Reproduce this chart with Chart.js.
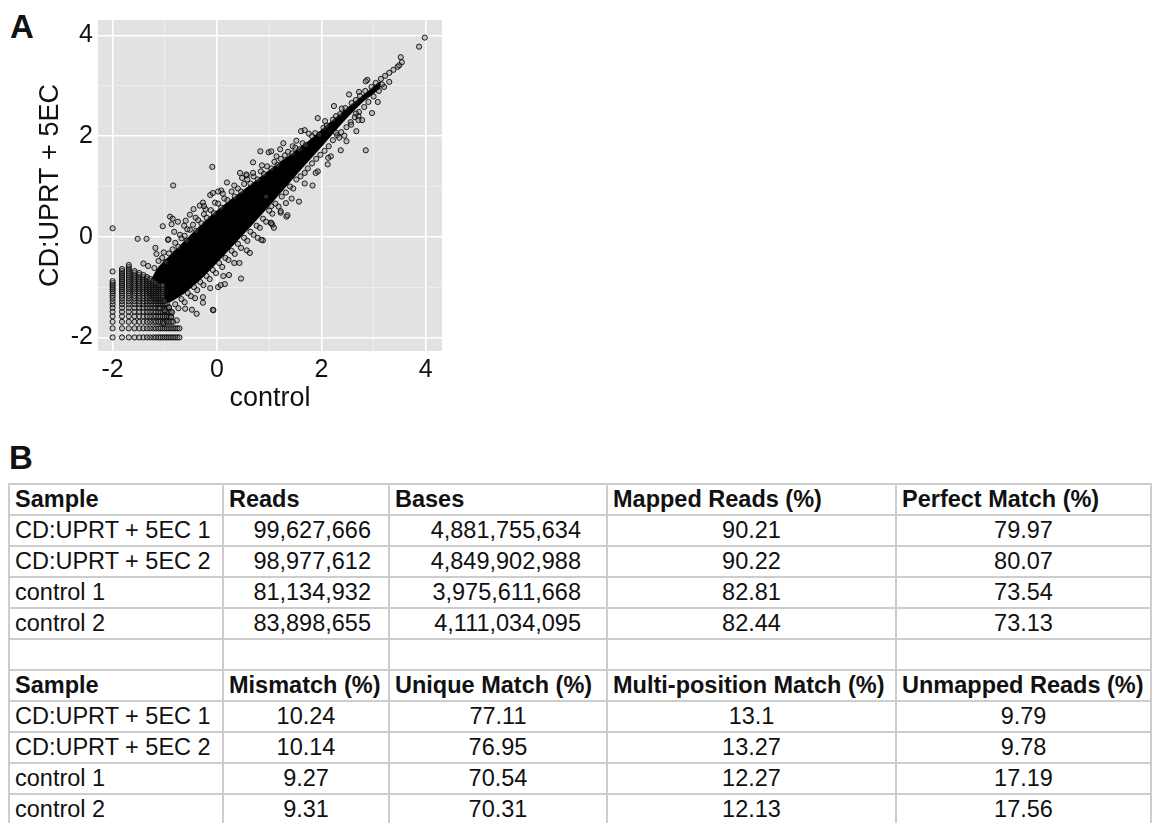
<!DOCTYPE html>
<html>
<head>
<meta charset="utf-8">
<script src="https://cdn.jsdelivr.net/npm/chart.js@4.4.1/dist/chart.umd.min.js"></script>
<style>
  body { margin: 0; background: #fff; font-family: "Liberation Sans", Arial, sans-serif; color: #111; }
  #page { position: relative; width: 1155px; height: 823px; overflow: hidden; }
  .panel-label { position: absolute; font-weight: bold; font-size: 33px; line-height: 1; }
  #chartBox { position: absolute; left: 0; top: 0; width: 450px; height: 420px; }
  #stats { position: absolute; left: 8px; top: 483px; width: 1142px; border-collapse: collapse; table-layout: fixed; font-size: 23.5px; }
  #stats td { border: 2px solid #cdcdcd; height: 29px; padding: 0 5px; line-height: 29px; white-space: nowrap; overflow: visible; }
  #stats td.head { font-weight: bold; }
  #stats td.num { text-align: right; }
  #stats td.mid { text-align: center; }
</style>
</head>
<body>
<div id="page">
  <div class="panel-label" style="left:10px; top:10px;">A</div>
  <div id="chartBox"><canvas id="scatter"></canvas></div>
  <div class="panel-label" style="left:9px; top:441px;">B</div>
  <table id="stats">
    <colgroup>
      <col style="width:214px"><col style="width:166px"><col style="width:218px"><col style="width:289px"><col style="width:255px">
    </colgroup>
    <tbody id="statsBody"></tbody>
  </table>
</div>

<script>
// ---- panel A: log expression, control vs CD:UPRT + 5EC ----
const tickValues = [-2, -1, 0, 1, 2, 3, 4];
const labelledTicks = [-2, 0, 2, 4];

// solid dense core of the cloud (outline)
const coreX = [-1.25, -1.1, -0.78, -0.46, -0.14, 0.24, 0.62, 1.01, 1.39, 1.77, 2.15, 2.54, 2.92, 3.11,
               3.11, 2.79, 2.41, 2.03, 1.64, 1.26, 0.88, 0.5, 0.11, -0.27, -0.65, -0.97, -1.22, -1.32];
const coreY = [-0.86, -0.6, -0.27, 0.06, 0.38, 0.7, 1.0, 1.31, 1.6, 1.9, 2.24, 2.58, 2.9, 3.06,
               2.96, 2.7, 2.3, 1.85, 1.4, 0.95, 0.5, 0.07, -0.37, -0.78, -1.12, -1.31, -1.27, -1.11];

// points just above the core
const upperX = [-1.2, -1.12, -1.05, -0.98, -0.92, -0.85, -0.8, -0.74, -0.68, -0.62, -0.58, -0.52, -0.46, -0.4, -0.36, -0.3,
                -0.25, -0.2, -0.12, -0.06, 0.02, 0.08, 0.14, 0.2, 0.28, 0.34, 0.4, 0.46, 0.52, 0.58, 0.64, 0.7, 0.78, 0.84,
                0.9, 0.96, 1.04, 1.1, 1.16, 1.22, 1.3, 1.36, 1.44, 1.5, 1.58, 1.64, 1.7, 1.82, 1.88, 1.96, 2.04, 2.1, 2.22,
                2.28, 2.36, 2.46, 2.58, 2.66, 2.74, 2.84, 2.96, 3.04, 3.14, 3.22, 3.3, 3.38, 3.46];
const upperY = [-0.62, -0.48, -0.42, -0.5, -0.33, -0.25, -0.12, -0.2, -0.03, 0.02, -0.08, 0.14, 0.24, 0.12, 0.33, 0.27,
                0.45, 0.38, 0.53, 0.47, 0.66, 0.58, 0.76, 0.73, 0.9, 0.8, 0.96, 0.9, 1.05, 1.14, 1.06, 1.2, 1.14, 1.3,
                1.25, 1.4, 1.36, 1.49, 1.43, 1.55, 1.62, 1.69, 1.66, 1.77, 1.74, 1.86, 1.82, 2.0, 2.06, 2.03, 2.17, 2.21, 2.33,
                2.4, 2.44, 2.56, 2.66, 2.72, 2.8, 2.9, 2.98, 3.06, 3.14, 3.2, 3.26, 3.32, 3.38];

// further out above the core
const upperOuterX = [-1.32, -1.18, -1.02, -0.93, -0.82, -0.71, -0.6, -0.52, -0.41, -0.33, -0.22, -0.13, -0.04, 0.08, 0.19, 0.33,
                     0.44, 0.57, 0.69, 0.86, 0.99, 1.14, 1.27, 1.45, 1.61, 1.76, 1.93, 2.07, 2.24, 2.39, 2.53, 2.72, 2.88];
const upperOuterY = [-0.58, -0.22, -0.31, -0.05, 0.1, 0.04, 0.32, 0.44, 0.38, 0.62, 0.55, 0.83, 0.68, 0.92, 1.08, 1.02,
                     1.27, 1.22, 1.48, 1.42, 1.68, 1.6, 1.86, 1.8, 2.1, 2.05, 2.36, 2.3, 2.6, 2.55, 2.83, 2.88, 3.12];

// points just below the core
const lowerX = [-1.1, -1.0, -0.92, -0.86, -0.8, -0.74, -0.68, -0.62, -0.56, -0.5, -0.44, -0.38, -0.32, -0.26, -0.2, -0.14,
                -0.08, -0.02, 0.04, 0.1, 0.16, 0.22, 0.28, 0.34, 0.4, 0.46, 0.52, 0.58, 0.64, 0.7, 0.76, 0.82, 0.88, 0.94,
                1.0, 1.06, 1.12, 1.18, 1.24, 1.32, 1.4, 1.46, 1.52, 1.6, 1.68, 1.74, 1.82, 1.9, 1.98, 2.06, 2.14, 2.22, 2.3,
                2.38, 2.48, 2.56, 2.64, 2.72, 2.82, 2.9, 3.0, 3.1, 3.2, 3.3];
const lowerY = [-1.42, -1.46, -1.4, -1.5, -1.34, -1.42, -1.24, -1.3, -1.12, -1.18, -1.0, -1.06, -0.9, -0.96, -0.78, -0.84,
                -0.66, -0.72, -0.52, -0.6, -0.42, -0.46, -0.28, -0.34, -0.14, -0.22, -0.02, -0.08, 0.1, 0.04, 0.22, 0.18, 0.36, 0.3,
                0.52, 0.46, 0.66, 0.6, 0.8, 0.88, 1.0, 0.96, 1.14, 1.2, 1.27, 1.36, 1.46, 1.55, 1.63, 1.71, 1.8, 1.92, 2.02,
                2.08, 2.18, 2.28, 2.38, 2.48, 2.58, 2.68, 2.79, 2.9, 2.98, 3.08];

// further out below the core
const lowerOuterX = [-1.03, -0.88, -0.77, -0.61, -0.48, -0.42, -0.27, -0.13, 0.02, 0.12, 0.23, 0.33, 0.43, 0.57, 0.63, 0.78,
                     0.88, 1.03, 1.09, 1.22, 1.33, 1.43, 1.57, 1.68, 1.83, 1.93, 2.12, 2.18, 2.37, 2.48, 2.67, 2.78, 2.97, 3.08];
const lowerOuterY = [-1.72, -1.6, -1.66, -1.43, -1.45, -1.22, -1.2, -1.02, -1.0, -0.78, -0.76, -0.52, -0.52, -0.27, -0.32, -0.02,
                     -0.07, 0.28, 0.18, 0.48, 0.4, 0.76, 0.7, 1.06, 1.02, 1.3, 1.44, 1.6, 1.72, 1.9, 2.1, 2.32, 2.46, 2.68];

// scattered outliers
const outlierX = [3.98, 3.87, 3.52, 3.54, 3.49, 2.85, 2.13, 1.89, 0.83, 1.04, 1.21, -0.09, -0.84, -2.0, -1.52, -1.35,
                  -1.04, -0.9, -0.85, -0.75, -0.87, 0.85, 0.46, 0.15, 0.07, -0.08, -0.07, -0.39, -0.27, 1.35, 1.06, 1.04,
                  1.22, 1.32, -0.08, 0.02, 0.11, -0.27, -0.25, -0.45, -0.63, -0.57, -0.94, -1.16, -1.41, 0.48, 0.56, 0.69,
                  2.28, 2.34, 2.44, 2.57, 2.71, 2.71, 2.66, 2.85, 3.16, 1.68, 1.52, 0.94, 1.04];
const outlierY = [3.96, 3.78, 3.57, 3.47, 3.41, 1.72, 1.57, 1.27, 1.7, 1.7, 1.74, 1.39, 1.02, 0.17, -0.04, -0.04,
                  0.21, 0.4, 0.36, 0.3, 0.25, -0.06, -0.83, -0.94, -0.96, -1.45, -1.46, -1.53, -1.31, 0.43, 0.24, 0.27,
                  0.51, 0.67, 0.87, 0.9, 0.86, 0.68, 0.61, 0.55, 0.22, 0.15, -0.06, -0.34, -0.53, 1.17, 1.24, 1.27,
                  2.07, 1.97, 2.01, 2.23, 2.4, 2.32, 2.45, 3.09, 3.03, 2.12, 1.91, 0.8, 0.61];

// quantised low-count values at the bottom left
const gridLevels = [-2, -1.82, -1.69, -1.58, -1.49, -1.41, -1.34, -1.28, -1.22, -1.17, -1.12, -1.08, -1.04,
                    -1.0, -0.96, -0.92, -0.88, -0.84, -0.8, -0.76, -0.72, -0.68, -0.64, -0.6, -0.56];
// highest level reached by each column of the grid
const gridColReach = [16, 22, 24, 21, 20, 19, 18, 17, 16, 15, 14, 14, 14, 7, 6, 5, 4, 2, 1, 1, 1];
const gridExtraX = [-2.0];
const gridExtraY = [-0.69];

const zip = (xs, ys) => xs.map((x, i) => ({ x: x, y: ys[i] }));
const gridPoints = zip(gridExtraX, gridExtraY);
gridColReach.forEach((reach, i) => {
  for (let j = 0; j <= reach; j++) gridPoints.push({ x: gridLevels[i], y: gridLevels[j] });
});

const pointStyle = {
  pointRadius: 2.6,
  pointBorderWidth: 1,
  pointBorderColor: 'rgba(0,0,0,0.85)',
  pointBackgroundColor: 'rgba(120,120,120,0.35)',
  showLine: false
};

const panelBg = {
  id: 'panelBg',
  beforeDraw(chart) {
    const a = chart.chartArea;
    const ctx = chart.ctx;
    ctx.save();
    ctx.fillStyle = '#e2e2e2';
    ctx.fillRect(a.left, a.top, a.right - a.left, a.bottom - a.top);
    ctx.restore();
  }
};

const axisFont = { family: '"Liberation Sans", Arial, sans-serif', size: 25 };
const titleFont = { family: '"Liberation Sans", Arial, sans-serif', size: 27 };
const gridOpts = {
  drawTicks: false,
  color: ctx => (ctx.tick && labelledTicks.includes(ctx.tick.value)) ? '#ffffff' : '#eeeeee',
  lineWidth: ctx => (ctx.tick && labelledTicks.includes(ctx.tick.value)) ? 1.6 : 1
};
const setTicks = scale => { scale.ticks = tickValues.map(v => ({ value: v })); };
const tickLabel = v => labelledTicks.includes(v) ? String(v) : '';

new Chart(document.getElementById('scatter'), {
  type: 'scatter',
  data: {
    datasets: [
      Object.assign({ data: zip(outlierX, outlierY) }, pointStyle),
      Object.assign({ data: zip(upperX, upperY) }, pointStyle),
      Object.assign({ data: zip(upperOuterX, upperOuterY) }, pointStyle),
      Object.assign({ data: zip(lowerX, lowerY) }, pointStyle),
      Object.assign({ data: zip(lowerOuterX, lowerOuterY) }, pointStyle),
      Object.assign({ data: gridPoints }, pointStyle),
      {
        type: 'line',
        data: zip(coreX, coreY),
        showLine: true,
        fill: 'shape',
        backgroundColor: '#000',
        borderColor: '#000',
        borderWidth: 2,
        pointRadius: 0,
        tension: 0.2
      }
    ]
  },
  options: {
    responsive: true,
    maintainAspectRatio: false,
    animation: false,
    layout: { padding: { top: 7, right: 8, left: 0, bottom: 0 } },
    plugins: { legend: { display: false }, tooltip: { enabled: false } },
    scales: {
      x: {
        type: 'linear', min: -2.28, max: 4.31,
        afterBuildTicks: setTicks,
        afterFit: s => { s.height = 69; },
        border: { display: false },
        grid: gridOpts,
        ticks: { padding: 4, color: '#111', font: axisFont, maxRotation: 0, callback: tickLabel },
        title: { display: true, text: 'control', color: '#111', font: titleFont, padding: { top: 0, bottom: 5 } }
      },
      y: {
        type: 'linear', min: -2.27, max: 4.31,
        afterBuildTicks: setTicks,
        afterFit: s => { s.width = 98; },
        border: { display: false },
        grid: gridOpts,
        ticks: { padding: 5, color: '#111', font: axisFont, callback: tickLabel },
        title: { display: true, text: 'CD:UPRT + 5EC', color: '#111', font: titleFont, padding: { top: 34, bottom: 0 } }
      }
    }
  },
  plugins: [panelBg]
});

// ---- panel B: sequencing summary table ----
const sampleNames = ['CD:UPRT + 5EC 1', 'CD:UPRT + 5EC 2', 'control 1', 'control 2'];
const readCounts = [99627666, 98977612, 81134932, 83898655];
const baseCounts = [4881755634, 4849902988, 3975611668, 4111034095];
const mappedPct = [90.21, 90.22, 82.81, 82.44];
const perfectPct = [79.97, 80.07, 73.54, 73.13];
const mismatchPct = [10.24, 10.14, 9.27, 9.31];
const uniquePct = [77.11, 76.95, 70.54, 70.31];
const multiPct = [13.1, 13.27, 12.27, 12.13];
const unmappedPct = [9.79, 9.78, 17.19, 17.56];
const headerTop = ['Sample', 'Reads', 'Bases', 'Mapped Reads (%)', 'Perfect Match (%)'];
const headerBottom = ['Sample', 'Mismatch (%)', 'Unique Match (%)', 'Multi-position Match (%)', 'Unmapped Reads (%)'];

const body = document.getElementById('statsBody');
function addRow(cells) {
  const tr = document.createElement('tr');
  cells.forEach(c => {
    const td = document.createElement('td');
    td.textContent = c.text;
    if (c.cls) td.className = c.cls;
    if (c.padRight) td.style.paddingRight = c.padRight + 'px';
    tr.appendChild(td);
  });
  body.appendChild(tr);
}
const fmt = n => n.toLocaleString('en-US');

addRow(headerTop.map(h => ({ text: h, cls: 'head' })));
sampleNames.forEach((name, i) => {
  addRow([
    { text: name },
    { text: fmt(readCounts[i]), cls: 'num', padRight: 17 },
    { text: fmt(baseCounts[i]), cls: 'num', padRight: 25 },
    { text: String(mappedPct[i]), cls: 'mid' },
    { text: String(perfectPct[i]), cls: 'mid' }
  ]);
});
addRow(headerTop.map(() => ({ text: '' })));
addRow(headerBottom.map(h => ({ text: h, cls: 'head' })));
sampleNames.forEach((name, i) => {
  addRow([
    { text: name },
    { text: String(mismatchPct[i]), cls: 'mid' },
    { text: String(uniquePct[i]), cls: 'mid' },
    { text: String(multiPct[i]), cls: 'mid' },
    { text: String(unmappedPct[i]), cls: 'mid' }
  ]);
});
</script>
</body>
</html>
